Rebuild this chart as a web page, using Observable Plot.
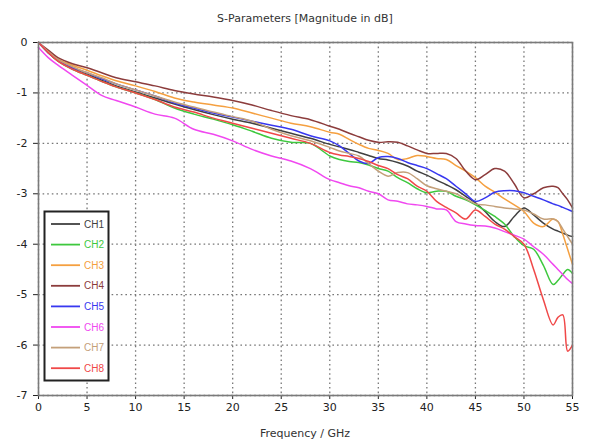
<!DOCTYPE html>
<html>
<head>
<meta charset="utf-8">
<script src="https://cdn.jsdelivr.net/npm/d3@7"></script>
<script src="https://cdn.jsdelivr.net/npm/@observablehq/plot@0.6"></script>
<style>
  html, body { margin: 0; padding: 0; background: #fff; }
  svg { display: block; }
</style>
</head>
<body>
<div id="chart"></div>
<script>
const title = "S-Parameters [Magnitude in dB]";
const xLabel = "Frequency / GHz";
const xTicks = [0, 5, 10, 15, 20, 25, 30, 35, 40, 45, 50, 55];
const yTicks = [0, -1, -2, -3, -4, -5, -6, -7];
const series = ["CH1", "CH2", "CH3", "CH4", "CH5", "CH6", "CH7", "CH8"];
const colors = ["#404040", "#3ec83e", "#f5a040", "#8c3c3c", "#3838f0", "#f048f0", "#c4a07a", "#f04848"];

const freq = [0, 1, 2, 3.5, 5, 6.5, 8, 10, 12, 14, 16, 18, 20, 22, 24, 26, 28, 30, 31, 32, 33, 34, 35, 36, 37, 38, 39, 40, 41, 42, 43, 44, 45, 46, 47, 48, 49, 50, 51, 52, 53, 53.5, 54, 54.5, 55];

const ch1 = [0, -0.2, -0.36, -0.52, -0.63, -0.75, -0.86, -0.98, -1.1, -1.22, -1.33, -1.43, -1.52, -1.6, -1.7, -1.8, -1.9, -2.02, -2.07, -2.12, -2.18, -2.24, -2.3, -2.33, -2.38, -2.45, -2.55, -2.63, -2.73, -2.82, -2.92, -3.05, -3.18, -3.35, -3.55, -3.65, -3.45, -3.28, -3.42, -3.58, -3.7, -3.74, -3.78, -3.82, -3.85];
const ch2 = [0, -0.2, -0.37, -0.53, -0.65, -0.77, -0.88, -1.0, -1.13, -1.3, -1.42, -1.52, -1.63, -1.76, -1.9, -1.98, -2.0, -2.25, -2.32, -2.36, -2.38, -2.43, -2.5, -2.55, -2.68, -2.78, -2.9, -2.98, -2.95, -2.95, -3.05, -3.12, -3.22, -3.33, -3.45, -3.6, -3.85, -4.03, -4.1, -4.42, -4.8, -4.72, -4.6, -4.5, -4.58];
const ch3 = [0, -0.18, -0.33, -0.45, -0.55, -0.66, -0.76, -0.86, -0.97, -1.1, -1.18, -1.24, -1.3, -1.4, -1.5, -1.6, -1.67, -1.78, -1.82, -1.92, -2.02, -2.1, -2.14, -2.2, -2.32, -2.3, -2.24, -2.26, -2.3, -2.32, -2.44, -2.55, -2.68, -2.85, -2.97, -3.1, -3.22, -3.35, -3.58, -3.65, -3.5, -3.55, -3.8, -4.1, -4.4];
const ch4 = [0, -0.15, -0.3, -0.42, -0.5, -0.6, -0.7, -0.78, -0.86, -0.95, -1.02, -1.08, -1.15, -1.24, -1.35, -1.45, -1.53, -1.66, -1.72, -1.8, -1.87, -1.94, -1.98, -1.97, -1.98, -2.05, -2.13, -2.2, -2.2, -2.2, -2.3, -2.55, -2.72, -2.62, -2.5, -2.55, -2.8, -3.08, -3.0, -2.88, -2.85, -2.88, -3.0, -3.12, -3.28];
const ch5 = [0, -0.2, -0.35, -0.5, -0.6, -0.72, -0.82, -0.94, -1.06, -1.2, -1.3, -1.4, -1.48, -1.56, -1.64, -1.72, -1.85, -1.95, -2.05, -2.2, -2.35, -2.4, -2.28, -2.26, -2.3, -2.38, -2.44, -2.5, -2.6, -2.7, -2.85, -3.0, -3.15, -3.08, -2.97, -2.94, -2.94, -2.98, -3.05, -3.12, -3.2, -3.23, -3.27, -3.31, -3.35];
const ch6 = [-0.1, -0.3, -0.45, -0.65, -0.85, -1.05, -1.15, -1.28, -1.42, -1.5, -1.72, -1.82, -1.95, -2.12, -2.25, -2.35, -2.5, -2.72, -2.78, -2.84, -2.88, -2.95, -3.0, -3.12, -3.15, -3.2, -3.22, -3.25, -3.3, -3.32, -3.55, -3.6, -3.63, -3.64, -3.68, -3.75, -3.82, -3.9, -4.05, -4.2, -4.4, -4.5, -4.6, -4.7, -4.78];
const ch7 = [0, -0.18, -0.34, -0.48, -0.6, -0.7, -0.82, -0.94, -1.06, -1.18, -1.28, -1.38, -1.47, -1.56, -1.72, -1.85, -1.95, -2.08, -2.15, -2.2, -2.25, -2.4, -2.55, -2.65, -2.58, -2.58, -2.7, -2.84, -2.9, -2.95, -3.0, -3.1, -3.2, -3.22, -3.25, -3.28, -3.3, -3.32, -3.4, -3.5, -3.5, -3.55, -3.7, -3.85, -4.0];
const ch8 = [0, -0.2, -0.37, -0.53, -0.65, -0.77, -0.88, -1.0, -1.13, -1.28, -1.38, -1.5, -1.6, -1.7, -1.8, -1.9, -2.0, -2.18, -2.23, -2.26, -2.3, -2.36, -2.44, -2.5, -2.62, -2.7, -2.85, -2.95, -3.15, -3.27, -3.38, -3.5, -3.32, -3.45, -3.6, -3.7, -3.85, -4.0, -4.5, -5.1, -5.6, -5.45, -5.4, -6.12, -6.0];

const values = [ch1, ch2, ch3, ch4, ch5, ch6, ch7, ch8];
const data = series.flatMap((name, i) => freq.map((f, j) => ({f, v: values[i][j], name})));

const W = 591, H = 441;
const mL = 38, mR = 19, mT = 42, mB = 46;

const chart = Plot.plot({
  width: W,
  height: H,
  marginTop: mT,
  marginBottom: mB,
  marginLeft: mL,
  marginRight: mR,
  style: {fontFamily: "DejaVu Sans, sans-serif", fontSize: "11px", color: "#222", background: "#fff"},
  x: {domain: [0, 55], ticks: xTicks, label: null, tickSize: 4, tickPadding: 4},
  y: {domain: [-7, 0], ticks: yTicks, tickFormat: d => String(d), label: null, tickSize: 5, tickPadding: 6},
  color: {domain: series, range: colors},
  marks: [
    Plot.gridX(xTicks, {stroke: "#777", strokeOpacity: 1, strokeWidth: 1.3, strokeDasharray: "1.6,3"}),
    Plot.gridY(yTicks, {stroke: "#777", strokeOpacity: 1, strokeWidth: 1.3, strokeDasharray: "1.6,3"}),
    Plot.line(data, {x: "f", y: "v", z: "name", stroke: "name", strokeWidth: 1.5, curve: "catmull-rom"}),
    Plot.frame({stroke: "#7a7a7a", strokeWidth: 1.6})
  ]
});

document.getElementById("chart").appendChild(chart);

const svg = d3.select(chart);
svg.append("text")
  .attr("x", (mL + W - mR) / 2).attr("y", 22)
  .attr("text-anchor", "middle")
  .attr("font-family", "DejaVu Sans, sans-serif").attr("font-size", 11)
  .attr("fill", "#333")
  .text(title);
svg.append("text")
  .attr("x", (mL + W - mR) / 2).attr("y", 437)
  .attr("text-anchor", "middle")
  .attr("font-family", "DejaVu Sans, sans-serif").attr("font-size", 11)
  .attr("fill", "#333")
  .text(xLabel);

// Legend
const lg = svg.append("g");
lg.append("rect")
  .attr("x", 44.5).attr("y", 211.5).attr("width", 64).attr("height", 169)
  .attr("fill", "#fff").attr("stroke", "#222").attr("stroke-width", 2);
series.forEach((name, i) => {
  const y = 224 + i * 20.6;
  lg.append("line").attr("x1", 51).attr("x2", 80).attr("y1", y).attr("y2", y)
    .attr("stroke", colors[i]).attr("stroke-width", 1.8);
  lg.append("text").attr("x", 84).attr("y", y).attr("dy", "0.35em")
    .attr("text-anchor", "start")
    .attr("font-family", "Liberation Sans, sans-serif").attr("font-size", 10)
    .attr("fill", colors[i]).text(name);
});
</script>
</body>
</html>
